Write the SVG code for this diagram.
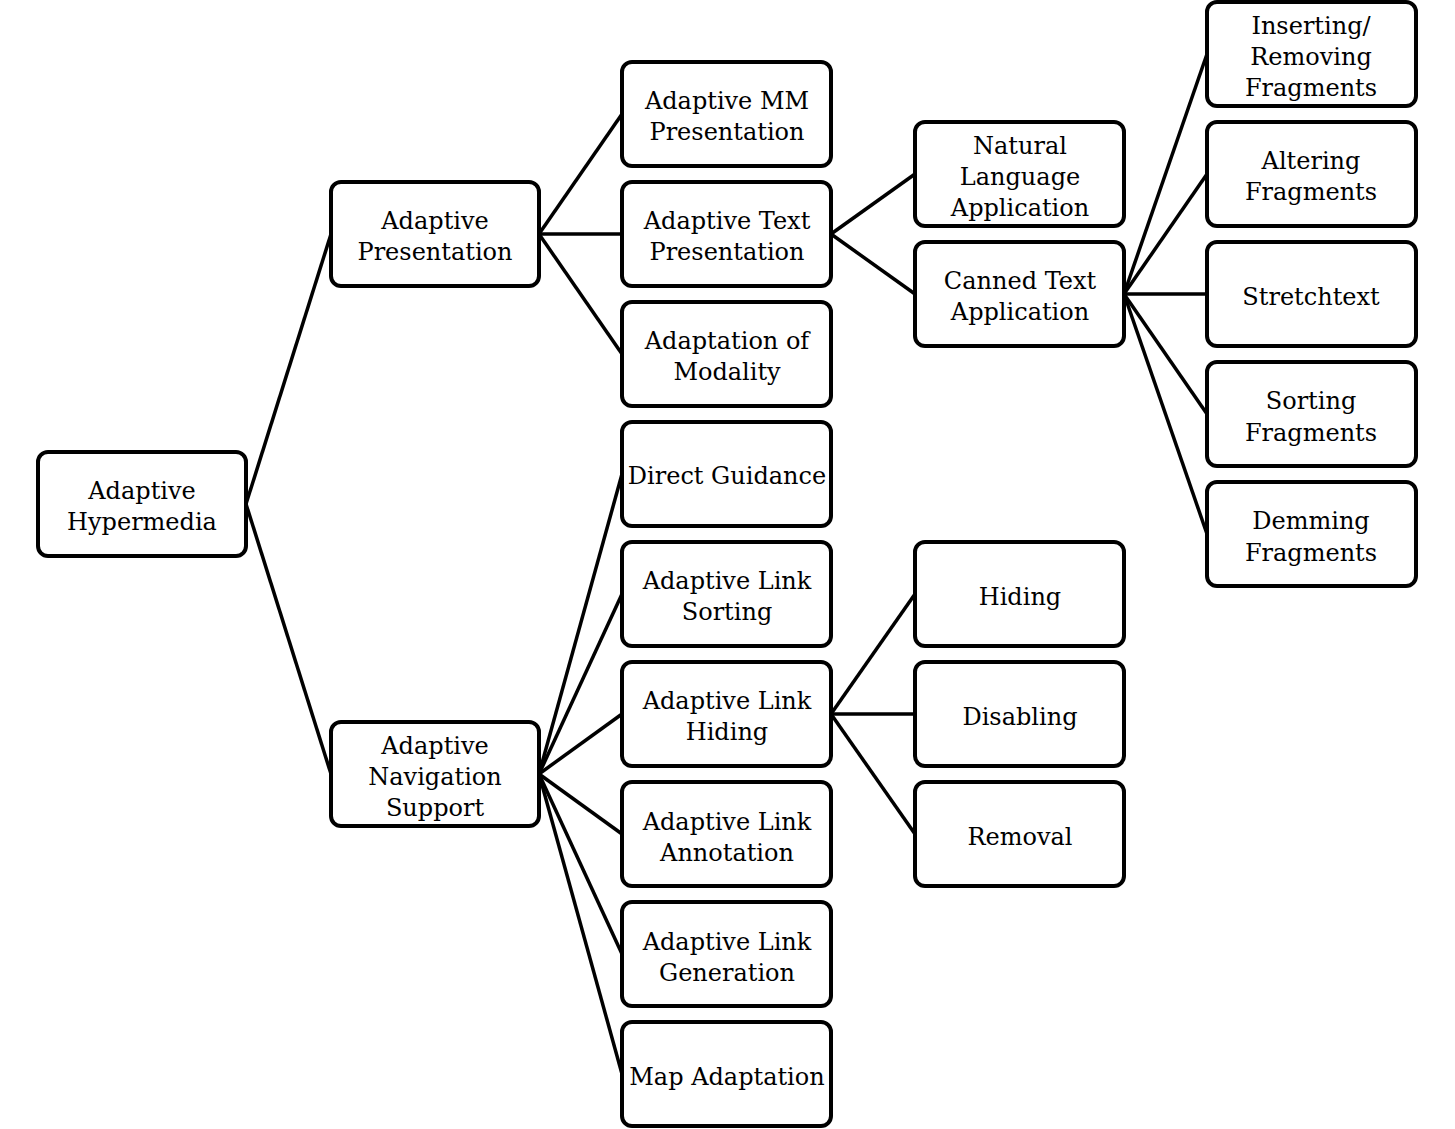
<svg xmlns="http://www.w3.org/2000/svg" width="1455" height="1129" viewBox="0 0 1455 1129">
<style>
rect{fill:#fff;stroke:#000;stroke-width:4}
text{font-family:"DejaVu Serif","Liberation Serif",serif;font-size:24px;text-anchor:middle;fill:#000}
#connectors line{stroke:#000;stroke-width:3.5}
</style>
<rect x="0" y="0" width="1455" height="1129" style="fill:#fff;stroke:none"/>
<g id="connectors">
<line x1="246" y1="504" x2="331" y2="234"/>
<line x1="246" y1="504" x2="331" y2="774"/>
<line x1="539" y1="234" x2="622" y2="114"/>
<line x1="539" y1="234" x2="622" y2="234"/>
<line x1="539" y1="234" x2="622" y2="354"/>
<line x1="539" y1="774" x2="622" y2="474"/>
<line x1="539" y1="774" x2="622" y2="594"/>
<line x1="539" y1="774" x2="622" y2="714"/>
<line x1="539" y1="774" x2="622" y2="834"/>
<line x1="539" y1="774" x2="622" y2="954"/>
<line x1="539" y1="774" x2="622" y2="1074"/>
<line x1="831" y1="234" x2="915" y2="174"/>
<line x1="831" y1="234" x2="915" y2="294"/>
<line x1="831" y1="714" x2="915" y2="594"/>
<line x1="831" y1="714" x2="915" y2="714"/>
<line x1="831" y1="714" x2="915" y2="834"/>
<line x1="1124" y1="294" x2="1207" y2="54"/>
<line x1="1124" y1="294" x2="1207" y2="174"/>
<line x1="1124" y1="294" x2="1207" y2="294"/>
<line x1="1124" y1="294" x2="1207" y2="414"/>
<line x1="1124" y1="294" x2="1207" y2="534"/>
</g>
<g id="n-root"><rect x="38" y="452" width="208" height="104" rx="10"/><text x="142" y="499">Adaptive</text><text x="142" y="530">Hypermedia</text></g>
<g id="n-pres"><rect x="331" y="182" width="208" height="104" rx="10"/><text x="435" y="229">Adaptive</text><text x="435" y="260">Presentation</text></g>
<g id="n-nav"><rect x="331" y="722" width="208" height="104" rx="10"/><text x="435" y="754">Adaptive</text><text x="435" y="785">Navigation</text><text x="435" y="816">Support</text></g>
<g id="n-mm"><rect x="622" y="62" width="209" height="104" rx="10"/><text x="727" y="109">Adaptive MM</text><text x="727" y="140">Presentation</text></g>
<g id="n-text"><rect x="622" y="182" width="209" height="104" rx="10"/><text x="727" y="229">Adaptive Text</text><text x="727" y="260">Presentation</text></g>
<g id="n-mod"><rect x="622" y="302" width="209" height="104" rx="10"/><text x="727" y="349">Adaptation of</text><text x="727" y="380">Modality</text></g>
<g id="n-dg"><rect x="622" y="422" width="209" height="104" rx="10"/><text x="727" y="484">Direct Guidance</text></g>
<g id="n-ls"><rect x="622" y="542" width="209" height="104" rx="10"/><text x="727" y="589">Adaptive Link</text><text x="727" y="620">Sorting</text></g>
<g id="n-lh"><rect x="622" y="662" width="209" height="104" rx="10"/><text x="727" y="709">Adaptive Link</text><text x="727" y="740">Hiding</text></g>
<g id="n-la"><rect x="622" y="782" width="209" height="104" rx="10"/><text x="727" y="830">Adaptive Link</text><text x="727" y="861">Annotation</text></g>
<g id="n-lg"><rect x="622" y="902" width="209" height="104" rx="10"/><text x="727" y="950">Adaptive Link</text><text x="727" y="981">Generation</text></g>
<g id="n-map"><rect x="622" y="1022" width="209" height="104" rx="10"/><text x="727" y="1085">Map Adaptation</text></g>
<g id="n-nl"><rect x="915" y="122" width="209" height="104" rx="10"/><text x="1020" y="154">Natural</text><text x="1020" y="185">Language</text><text x="1020" y="216">Application</text></g>
<g id="n-ct"><rect x="915" y="242" width="209" height="104" rx="10"/><text x="1020" y="289">Canned Text</text><text x="1020" y="320">Application</text></g>
<g id="n-hid"><rect x="915" y="542" width="209" height="104" rx="10"/><text x="1020" y="605">Hiding</text></g>
<g id="n-dis"><rect x="915" y="662" width="209" height="104" rx="10"/><text x="1020" y="725">Disabling</text></g>
<g id="n-rem"><rect x="915" y="782" width="209" height="104" rx="10"/><text x="1020" y="845">Removal</text></g>
<g id="n-ins"><rect x="1207" y="2" width="209" height="104" rx="10"/><text x="1311" y="34">Inserting/</text><text x="1311" y="65">Removing</text><text x="1311" y="96">Fragments</text></g>
<g id="n-alt"><rect x="1207" y="122" width="209" height="104" rx="10"/><text x="1311" y="169">Altering</text><text x="1311" y="200">Fragments</text></g>
<g id="n-str"><rect x="1207" y="242" width="209" height="104" rx="10"/><text x="1311" y="305">Stretchtext</text></g>
<g id="n-sort"><rect x="1207" y="362" width="209" height="104" rx="10"/><text x="1311" y="409">Sorting</text><text x="1311" y="441">Fragments</text></g>
<g id="n-dem"><rect x="1207" y="482" width="209" height="104" rx="10"/><text x="1311" y="529">Demming</text><text x="1311" y="561">Fragments</text></g>
</svg>
